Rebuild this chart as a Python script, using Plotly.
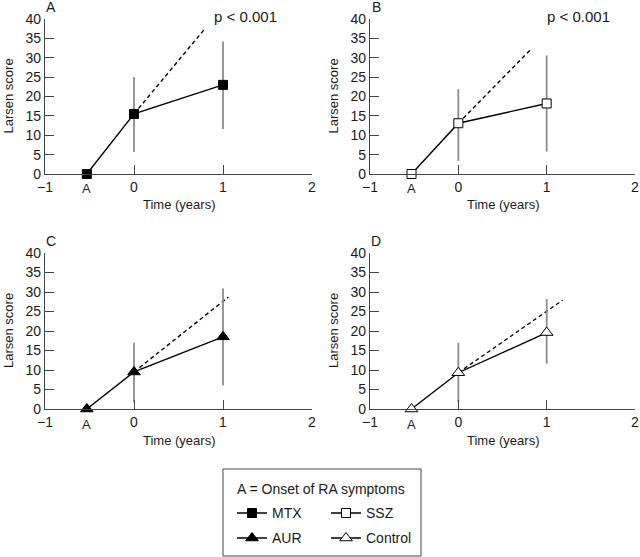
import plotly.graph_objects as go

# ---------------- data ----------------
times = [-0.53, 0, 1]
groups = ["MTX", "SSZ", "AUR", "Control"]
panel_letters = ["A", "B", "C", "D"]

mtx_mean = [0, 15.5, 23.0]
mtx_upper = [0, 25.0, 34.2]
mtx_lower = [0, 5.7, 11.6]

ssz_mean = [0, 13.1, 18.2]
ssz_upper = [0, 21.9, 30.6]
ssz_lower = [0, 3.4, 5.8]

aur_mean = [0, 9.5, 18.5]
aur_upper = [0, 17.0, 30.9]
aur_lower = [0, 1.7, 6.0]

ctl_mean = [0, 9.3, 19.6]
ctl_upper = [0, 17.0, 28.2]
ctl_lower = [0, 1.7, 11.6]

# extrapolated (expected) progression: from time 0 to end of dashed line
proj_x_end = [0.79, 0.83, 1.06, 1.18]
proj_y_end = [37.3, 32.4, 28.7, 27.9]

p_labels = ["p < 0.001", "p < 0.001", "", ""]

x_tickvals = [-1, 0, 1, 2]
y_tickvals = [0, 5, 10, 15, 20, 25, 30, 35, 40]

means = [mtx_mean, ssz_mean, aur_mean, ctl_mean]
uppers = [mtx_upper, ssz_upper, aur_upper, ctl_upper]
lowers = [mtx_lower, ssz_lower, aur_lower, ctl_lower]

# ---------------- styles ----------------
FONT = "Liberation Sans"
W, H = 640, 557
markers = [
    dict(symbol="square", size=9, color="black", line=dict(color="black", width=1)),
    dict(symbol="square", size=9, color="white", line=dict(color="black", width=1)),
    dict(symbol="triangle-up", size=11, color="black", line=dict(color="black", width=1)),
    dict(symbol="triangle-up", size=11, color="white", line=dict(color="black", width=1)),
]
legend_names = ["legend", "legend2", "legend3", "legend4"]

def px(x):
    return x / W

def py(y):
    return 1 - y / H

# plot areas in pixels: (left, right, top, bottom)
areas = [(45, 312, 19, 174), (370, 635, 19, 174), (45, 312, 253, 409), (370, 635, 253, 409)]

fig = go.Figure()
layout = dict(
    template="none",
    width=W, height=H,
    margin=dict(l=0, r=0, t=0, b=0, autoexpand=False),
    paper_bgcolor="white", plot_bgcolor="white",
    font=dict(family=FONT, size=14, color="#1a1a1a"),
    annotations=[], shapes=[],
)

for i in range(4):
    sfx = "" if i == 0 else str(i + 1)
    xa, ya = "x" + sfx, "y" + sfx
    l, r, t, b = areas[i]
    axis_common = dict(
        showline=True, linecolor="#444", linewidth=1.3,
        ticks="inside", ticklen=9, tickwidth=1.3, tickcolor="#444",
        showgrid=False, zeroline=False, automargin=False,
        tickfont=dict(family=FONT, size=14, color="#1a1a1a"),
    )
    layout["xaxis" + sfx] = dict(
        domain=[px(l), px(r)], range=[-1, 2], anchor=ya,
        tickmode="array", tickvals=x_tickvals, **axis_common,
    )
    layout["yaxis" + sfx] = dict(
        domain=[py(b), py(t)], range=[0, 40], anchor=xa,
        tickmode="array", tickvals=y_tickvals, **axis_common,
    )

    err_plus = [u - m for u, m in zip(uppers[i], means[i])]
    err_minus = [m - lo for m, lo in zip(means[i], lowers[i])]

    # dashed expected progression
    fig.add_trace(go.Scatter(
        x=[times[1], proj_x_end[i]], y=[means[i][1], proj_y_end[i]],
        mode="lines", line=dict(color="black", width=1.4, dash="4px,3px"),
        xaxis=xa, yaxis=ya, showlegend=False, hoverinfo="skip", cliponaxis=False,
    ))
    # observed
    fig.add_trace(go.Scatter(
        x=times, y=means[i], name=groups[i],
        mode="lines+markers", line=dict(color="black", width=1.4),
        marker=markers[i],
        error_y=dict(type="data", symmetric=False, array=err_plus, arrayminus=err_minus,
                     color="#8c8c8c", thickness=1.8, width=0),
        xaxis=xa, yaxis=ya, cliponaxis=False,
        legend=legend_names[i], showlegend=True,
    ))

    # panel letter
    layout["annotations"].append(dict(
        text=panel_letters[i], x=px(l + 6), y=py(t - 12), xref="paper", yref="paper",
        xanchor="center", yanchor="middle", showarrow=False, font=dict(size=14)))
    # p value
    if p_labels[i]:
        layout["annotations"].append(dict(
            text=p_labels[i], x=px(l + 200 if i == 0 else l + 208), y=py(17), xref="paper", yref="paper",
            xanchor="center", yanchor="middle", showarrow=False, font=dict(size=15)))
    # x-axis title
    layout["annotations"].append(dict(
        text="Time (years)", x=px((l + r) / 2), y=py(b + 31), xref="paper", yref="paper",
        xanchor="center", yanchor="middle", showarrow=False, font=dict(size=13)))
    # y-axis title
    layout["annotations"].append(dict(
        text="Larsen score", x=px(l - 37), y=py((t + b) / 2), xref="paper", yref="paper",
        xanchor="center", yanchor="middle", showarrow=False, textangle=-90, font=dict(size=13)))
    # onset label
    layout["annotations"].append(dict(
        text="A", x=times[0], y=py(b + 15), xref=xa, yref="paper",
        xanchor="center", yanchor="middle", showarrow=False, font=dict(size=13)))

# legend box + title
layout["shapes"].append(dict(
    type="rect", xref="paper", yref="paper",
    x0=px(223), x1=px(421), y0=py(556), y1=py(469),
    line=dict(color="#444", width=1), fillcolor="rgba(0,0,0,0)"))
layout["annotations"].append(dict(
    text="A = Onset of RA symptoms", x=px(235), y=py(489), xref="paper", yref="paper",
    xanchor="left", yanchor="middle", showarrow=False, font=dict(size=14)))

legend_pos = [(232, 513), (326, 513), (232, 538), (326, 538)]
for name, (lx, cy) in zip(legend_names, legend_pos):
    layout[name] = dict(
        x=px(lx), y=py(cy - 15.6), xanchor="left", yanchor="top",
        bgcolor="rgba(0,0,0,0)", borderwidth=0,
        font=dict(family=FONT, size=14, color="#1a1a1a"),
    )

fig.update_layout(**layout)
fig.write_html("out.html", config={"displayModeBar": False},
               post_script="document.body.style.margin='0';document.body.style.overflow='hidden';")
